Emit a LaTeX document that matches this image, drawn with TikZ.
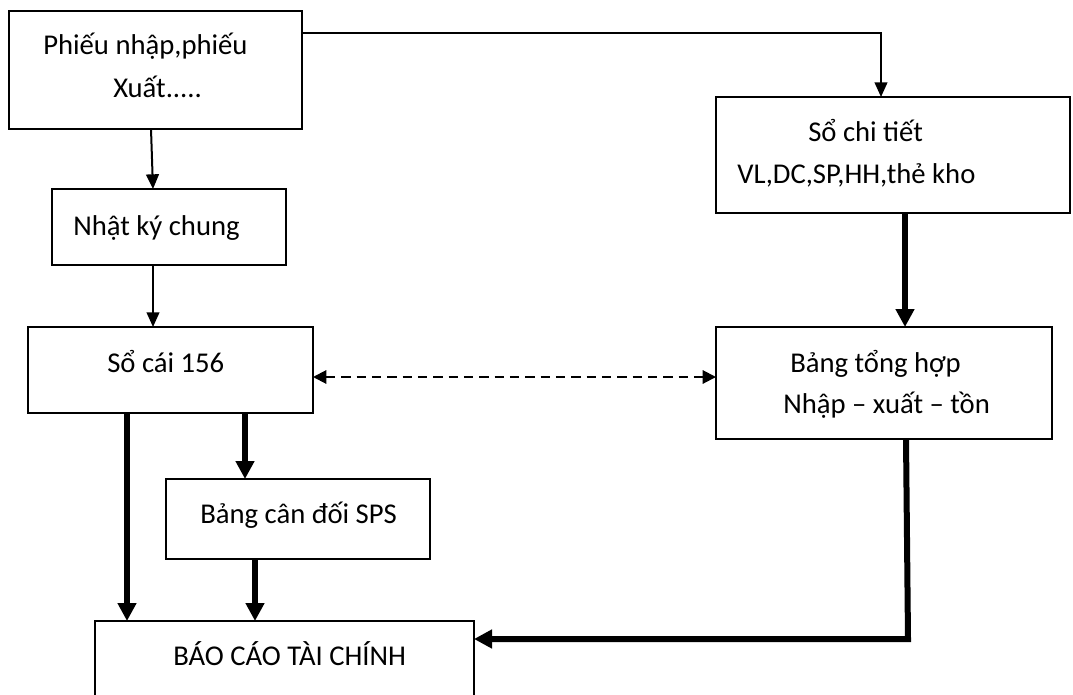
\documentclass[tikz,border=0pt]{standalone}
\usepackage{fontspec}
\setmainfont{Carlito}
\usetikzlibrary{arrows.meta,fit,calc}
\tikzset{
  box/.style={draw=black,line width=1.1pt,inner sep=0pt,outer sep=0pt},
  txt/.style={inner sep=0pt,anchor=base west,font=\fontsize{21.5}{25}\selectfont},
  thinarr/.style={line width=1.5pt,-{Triangle[length=11pt,width=9.5pt]}},
  thickarr/.style={line width=4.5pt,-{Triangle[length=13.5pt,width=13.5pt]}},
  dasharr/.style={line width=1.5pt,dash pattern=on 7pt off 4.5pt,{Triangle[length=10pt,width=10pt]}-{Triangle[length=10pt,width=10pt]}}
}
\begin{document}
\begin{tikzpicture}[x=0.75pt,y=-0.75pt]
\useasboundingbox (0,0) rectangle (1073,695);
\clip (0,0) rectangle (1073,695);
% boxes
\node[box,fit={(9,11) (302,129)}] (A) {};
\node[box,fit={(716,97) (1070,213)}] (B) {};
\node[box,fit={(52,189) (286,265)}] (N) {};
\node[box,fit={(28,327) (313,413)}] (S) {};
\node[box,fit={(716,327) (1052,439)}] (D) {};
\node[box,fit={(166,479) (430,559)}] (C) {};
\node[box,fit={(95,621) (474,720)}] (R) {};
% texts
\node[txt] (tA1) at (43,55) {Phiếu nhập,phiếu};
\node[txt] (tA2) at (113,98) {Xuất.....};
\node[txt] (tN) at (73,235) {Nhật ký chung};
\node[txt] (tS) at (107,372) {Sổ cái 156};
\node[txt] (tC) at (200,523) {Bảng cân đối SPS};
\node[txt] (tR) at (173,665) {BÁO CÁO TÀI CHÍNH};
\node[txt] (tB1) at (808,142) {Sổ chi tiết};
\node[txt] (tB2) at (737,184) {VL,DC,SP,HH,thẻ kho};
\node[txt] (tD1) at (790,372) {Bảng tổng hợp};
\node[txt] (tD2) at (783,413) {Nhập – xuất – tồn};
% connectors
\coordinate (a1) at (A.south -| 151,0);
\coordinate (n1) at (N.north -| 153,0);
\draw[thinarr] (a1) -- (n1);
\draw[thinarr] (N.south -| 153,0) -- (S.north -| 153,0);
\draw[thinarr] (A.east |- 0,33) -| (B.north -| 881,0);
\draw[thickarr] (B.south -| 905,0) -- (D.north -| 905,0);
\draw[dasharr] (S.east |- 0,377) -- (D.west |- 0,377);
\draw[thickarr] (S.south -| 127,0) -- (R.north -| 127,0);
\draw[thickarr] (S.south -| 245,0) -- (C.north -| 245,0);
\draw[thickarr] (C.south -| 255,0) -- (R.north -| 255,0);
\coordinate (k) at (908,639);
\draw[thickarr,line join=miter] (D.south -| 906,0) -- (k) -- (R.east |- k);
\end{tikzpicture}
\end{document}
